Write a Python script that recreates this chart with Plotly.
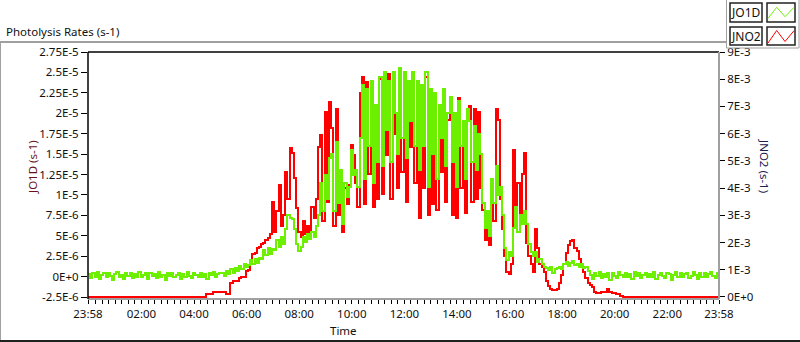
import plotly.graph_objects as go
import pandas as pd

# ---------------- data ----------------
START = "2000-01-01 23:58"   # first sample, 5-minute sampling
STEP = "5min"

# JO1D in units of 1E-6 s-1 (left axis)
jo1d_e6 = [
    0.3, -0.2, 0.5, 0.0, 0.6, -0.3, 0.2, 0.4, -0.1, 0.5,
    0.1, -0.4, 0.3, 0.6, 0.0, 0.2, -0.3, 0.4, 0.1, 0.5,
    -0.2, 0.3, 0.0, 0.6, -0.1, 0.2, 0.4, -0.3, 0.5, 0.1,
    0.3, -0.2, 0.6, 0.0, 0.2, -0.4, 0.4, 0.1, 0.5, -0.1,
    0.2, 0.5, -0.3, 0.3, 0.0, 0.6, 0.1, -0.2, 0.4, 0.2,
    -0.1, 0.5, 0.0, 0.3, -0.3, 0.4, 0.2, 0.6, -0.1, 0.3,
    0.5,
    0.5, 0.1, 0.7, 0.3, 0.9, 0.4, 1.1, 0.7, 1.3, 0.9, 1.6, 1.2,
    1.4, 2.0, 1.6, 2.2, 1.7, 2.3,
    2.2, 3.2, 2.6, 3.5, 2.8, 3.4,
    3.3, 4.5, 3.6, 4.8, 4.0,
    5.8, 7.6, 7.2,
    7.0, 5.8, 4.0, 3.1,
    3.6, 4.8, 4.2, 5.2, 4.6,
    5.5, 4.8, 6.2,
    7.5, 11.5, 8.0,
    12.5, 9.5, 14.5,
    15.0, 8.0,
    16.5, 9.0, 13.0,
    6.5,
    11.5, 9.8, 11.0,
    15.5, 12.5,
    13.0, 11.0,
    17.0, 23.5,
    12.0, 23.0, 16.0, 24.0, 11.5, 21.0, 14.0,
    24.5, 13.5, 25.0, 18.0, 24.0, 14.0, 25.0, 20.0, 15.0, 25.5,
    17.0, 25.0, 14.5, 24.0, 19.0, 25.0, 16.0,
    24.0, 13.0, 23.5, 16.0, 25.0, 11.0,
    23.0, 15.0, 22.5, 12.0, 21.0, 17.0, 23.0, 13.5, 20.0,
    22.0, 14.0, 20.0, 11.0, 21.5, 16.0, 19.0, 12.0, 20.5,
    19.0, 14.0, 18.5, 13.0, 17.5, 15.0,
    9.0, 6.0, 8.0, 5.0,
    12.0, 9.0, 13.5, 10.0, 11.0, 7.5,
    3.5, 2.0, 3.0, 2.5,
    6.0, 8.5, 5.5, 7.5, 6.5, 8.0,
    6.5, 4.0, 3.0,
    2.5, 3.0, 1.8, 2.2, 1.5, 1.2, 1.0,
    0.8, 1.2, 0.5, 0.9, 1.1,
    1.2, 0.9, 1.5, 1.8, 1.3, 1.7, 1.9, 1.4, 1.6, 1.2, 1.5, 1.0, 1.2, 0.7,
    0.2, -0.3, 0.5, 0.1, 0.6, -0.2, 0.3, 0.0, 0.5, -0.4,
    0.4, 0.1, -0.2, 0.6, 0.2, -0.1, 0.5, 0.0, 0.3, -0.3,
    0.6, 0.1, 0.4, -0.2, 0.2, 0.5, -0.1, 0.3, 0.0, 0.6,
    -0.3, 0.2, 0.4, 0.1, -0.2, 0.5, 0.3, -0.4, 0.2, 0.6,
    0.0, 0.4, -0.1, 0.3, 0.5, -0.2, 0.1, 0.6, 0.2, -0.3,
    0.4, 0.0, 0.5, -0.1, 0.3, 0.6, 0.1, -0.2, 0.4, 0.2,
]

# JNO2 in units of 1E-3 s-1 (right axis)
jno2_e3 = [
    0, 0, 0, 0, 0, 0, 0, 0, 0, 0, 0, 0, 0, 0, 0, 0, 0, 0,
    0, 0, 0, 0, 0, 0, 0, 0, 0, 0, 0, 0, 0, 0, 0, 0, 0, 0,
    0, 0, 0, 0, 0, 0, 0, 0, 0, 0, 0, 0, 0, 0, 0, 0, 0, 0,
    0.10, 0.10, 0.12, 0.17, 0.19, 0.19, 0.19,
    0.19, 0.19, 0.10, 0.12,
    0.52, 0.58, 0.58, 0.60, 0.70, 0.72, 0.75, 0.95,
    1.0, 1.25, 1.57, 1.6, 1.8, 1.85, 1.94, 2.0, 2.1, 2.17, 2.3,
    3.5, 2.4, 3.15, 4.1, 2.6, 3.0, 4.6, 3.6, 5.46, 5.3, 4.37, 3.27, 2.4,
    2.2, 2.8, 2.3, 2.6, 2.2, 3.3, 2.9, 3.6,
    5.5, 5.95, 2.8, 6.8, 3.5, 7.17, 6.2, 2.6, 6.9, 3.0, 4.5, 2.4, 4.0, 3.4,
    4.1, 5.6, 5.2, 4.2, 3.3, 7.5, 8.08,
    3.4, 7.9, 4.5, 7.8, 3.3, 7.0, 3.6,
    8.0, 3.8, 8.1, 5.2, 8.2, 3.6, 8.0, 6.0, 4.0, 8.2,
    4.6, 8.2, 3.5, 7.9, 5.5, 8.0, 4.2,
    7.8, 2.9, 7.5, 4.0, 8.1, 3.0,
    7.6, 3.4, 7.3, 3.2, 7.0, 4.6, 7.5, 3.5, 6.5,
    7.2, 3.0, 6.6, 2.9, 7.3, 4.0, 6.2, 3.1, 6.8,
    7.0, 3.5, 6.9, 3.6, 6.8, 4.0,
    3.2, 2.1, 2.9, 1.9,
    3.4, 2.8, 6.9, 6.5, 3.6, 2.5,
    1.5, 0.9, 0.85, 1.2,
    5.4, 3.0, 4.2, 2.9, 4.5, 5.3,
    2.0, 1.5, 1.2, 0.9, 2.5, 1.8, 1.2, 1.1, 0.9, 0.6,
    0.4, 0.3, 0.25, 0.25, 0.3, 0.5, 0.8, 1.2, 1.6, 1.9,
    2.05, 2.1, 1.8, 1.7, 1.4, 1.1, 0.9, 0.7, 0.5, 0.45,
    0.35, 0.2, 0.15, 0.15, 0.2, 0.18, 0.2, 0.28, 0.2, 0.15,
    0.15, 0.12, 0.12, 0.05,
    0, 0, 0, 0, 0, 0, 0, 0, 0, 0, 0, 0, 0, 0, 0,
    0, 0, 0, 0, 0, 0, 0, 0, 0, 0, 0, 0, 0, 0, 0,
    0, 0, 0, 0, 0, 0, 0, 0, 0, 0, 0, 0, 0, 0, 0,
]

left_tick_vals_e6 = [-2.5, 0, 2.5, 5, 7.5, 10, 12.5, 15, 17.5, 20, 22.5, 25, 27.5]
left_tick_text = ["-2.5E-6", "0E+0", "2.5E-6", "5E-6", "7.5E-6", "1E-5", "1.25E-5",
                  "1.5E-5", "1.75E-5", "2E-5", "2.25E-5", "2.5E-5", "2.75E-5"]
right_tick_vals_e3 = [0, 1, 2, 3, 4, 5, 6, 7, 8, 9]
right_tick_text = ["0E+0", "1E-3", "2E-3", "3E-3", "4E-3", "5E-3", "6E-3", "7E-3", "8E-3", "9E-3"]
x_tick_times = ["2000-01-01 23:58", "2000-01-02 02:00", "2000-01-02 04:00", "2000-01-02 06:00",
                "2000-01-02 08:00", "2000-01-02 10:00", "2000-01-02 12:00", "2000-01-02 14:00",
                "2000-01-02 16:00", "2000-01-02 18:00", "2000-01-02 20:00", "2000-01-02 22:00",
                "2000-01-02 23:58"]
x_tick_text = ["23:58", "02:00", "04:00", "06:00", "08:00", "10:00", "12:00", "14:00",
               "16:00", "18:00", "20:00", "22:00", "23:58"]

# ---------------- figure ----------------
n = min(len(jo1d_e6), len(jno2_e3))
times = pd.date_range(START, periods=n, freq=STEP)
jo1d = [v * 1e-6 for v in jo1d_e6[:n]]
jno2 = [v * 1e-3 for v in jno2_e3[:n]]

FONT = "Noto Sans, Segoe UI, sans-serif"
GREEN = "#6df000"
RED = "#ff0000"

L, R, T, B = 88, 81, 52, 43
W, H = 800, 342
PW = W - L - R
PH = H - T - B


def PX(x):
    return (x - L) / PW


def PY(y):
    return (H - B - y) / PH


# JNO2 on the base axis (right side), JO1D on the overlaying axis (left side) so green is drawn on top
fig = go.Figure()
fig.add_trace(go.Scatter(x=times, y=jno2, yaxis="y", mode="lines", name="JNO2",
                         line=dict(color=RED, width=2, shape="hv"), showlegend=False))
fig.add_trace(go.Scatter(x=times, y=jo1d, yaxis="y2", mode="lines", name="JO1D",
                         line=dict(color=GREEN, width=2, shape="hv"), showlegend=False))

tickfont = dict(family=FONT, size=11.5, color="#111111")

fig.update_layout(
    width=W, height=H, autosize=False,
    margin=dict(l=L, r=R, t=T, b=B, pad=0),
    paper_bgcolor="white", plot_bgcolor="white",
    font=dict(family=FONT, size=11, color="#111111"),
    xaxis=dict(
        type="date", range=[times[0], times[-1]],
        tickmode="array", tickvals=x_tick_times, ticktext=x_tick_text,
        ticks="outside", ticklen=4, tickwidth=1, tickcolor="black",
        showgrid=False, zeroline=False, showline=False, tickfont=tickfont,
        minor=dict(ticks="outside", ticklen=4, tickwidth=1, tickcolor="black",
                   tickmode="linear", tick0="2000-01-02 00:00", dtick=900000,
                   showgrid=False),
    ),
    yaxis=dict(
        side="right",
        range=[-7.5e-5, 9e-3],
        tickmode="array", tickvals=[v * 1e-3 for v in right_tick_vals_e3], ticktext=right_tick_text,
        ticks="outside", ticklen=5, tickwidth=1, tickcolor="black",
        showgrid=False, zeroline=False, showline=False, tickfont=tickfont,
    ),
    yaxis2=dict(
        overlaying="y", side="left", anchor="x",
        range=[-2.744e-6, 2.75e-5],
        tickmode="array", tickvals=[v * 1e-6 for v in left_tick_vals_e6], ticktext=left_tick_text,
        ticks="outside", ticklen=6, tickwidth=1, tickcolor="black",
        showgrid=False, zeroline=False, showline=False, tickfont=tickfont,
    ),
)

shapes = []


def line(x0, y0, x1, y1, color, width=1, layer="above"):
    shapes.append(dict(type="line", xref="paper", yref="paper",
                       x0=PX(x0), y0=PY(y0), x1=PX(x1), y1=PY(y1),
                       line=dict(color=color, width=width), layer=layer))


def rect(x0, y0, x1, y1, color, width=1):
    shapes.append(dict(type="rect", xref="paper", yref="paper",
                       x0=PX(x0), y0=PY(y0), x1=PX(x1), y1=PY(y1),
                       line=dict(color=color, width=width), fillcolor="white", layer="above"))


def zig(points, color):
    path = "M " + " L ".join(f"{PX(x)},{PY(y)}" for x, y in points)
    shapes.append(dict(type="path", xref="paper", yref="paper", path=path,
                       line=dict(color=color, width=1), layer="above"))


# outer frame
line(0, 42, 727, 42, "#a0a0a0", 2)
line(0.5, 42, 0.5, 342, "#a0a0a0", 1)
line(0, 341, 800, 341, "#202020", 2)
# plot frame
line(L, T, L + PW, T, "black", 1.5)
line(L, T, L, H - B, "black", 1.5)
line(L, H - B, L + PW, H - B, "#a0a0a0", 2, "below")
line(L + PW, T, L + PW, H - B, "#a0a0a0", 2)
# legend frame
line(726.5, 0, 726.5, 48, "#a0a0a0", 1)
line(726.5, 48, 799, 48, "#a0a0a0", 1)
line(799, 0, 799, 48, "#a0a0a0", 1)
rect(730, 3, 762, 22, "#222222", 1.5)
rect(767, 3, 795, 22, "#222222", 1.5)
rect(730, 27, 762, 45, "#222222", 1.5)
rect(767, 27, 795, 45, "#222222", 1.5)
zig([(768, 18.3), (776.7, 7.3), (785, 16.7), (794, 7.3)], GREEN)
zig([(768, 43), (776.7, 30.5), (785, 41.5), (794, 30.7)], RED)

fig.update_layout(shapes=shapes)

ann = [
    dict(text="Photolysis Rates (s-1)", x=PX(4), y=PY(32), xanchor="left", yanchor="middle",
         font=dict(family=FONT, size=11.5, color="#111111")),
    dict(text="Time", x=PX(343), y=PY(330), xanchor="center", yanchor="middle",
         font=dict(family=FONT, size=11.5, color="#111111")),
    dict(text="JO1D (s-1)", x=PX(32), y=PY(167), xanchor="center", yanchor="middle",
         textangle=-90, font=dict(family=FONT, size=11.5, color="#6a1020")),
    dict(text="JNO2 (s-1)", x=PX(765), y=PY(166), xanchor="center", yanchor="middle",
         textangle=90, font=dict(family=FONT, size=11.5, color="#1a2050")),
    dict(text="JO1D", x=PX(746), y=PY(13), xanchor="center", yanchor="middle",
         font=dict(family=FONT, size=12, color="#111111")),
    dict(text="JNO2", x=PX(746), y=PY(36), xanchor="center", yanchor="middle",
         font=dict(family=FONT, size=12, color="#111111")),
]
for a in ann:
    a.update(xref="paper", yref="paper", showarrow=False)
fig.update_layout(annotations=ann)

post = (
    "document.body.style.margin='0';document.body.style.overflow='hidden';"
    "document.querySelectorAll('.scatterlayer path.js-line').forEach(function(p){"
    "p.style.shapeRendering='crispEdges';p.style.strokeLinejoin='miter';});"
)
fig.write_html("out.html", config={"displayModeBar": False, "staticPlot": True}, post_script=post)
